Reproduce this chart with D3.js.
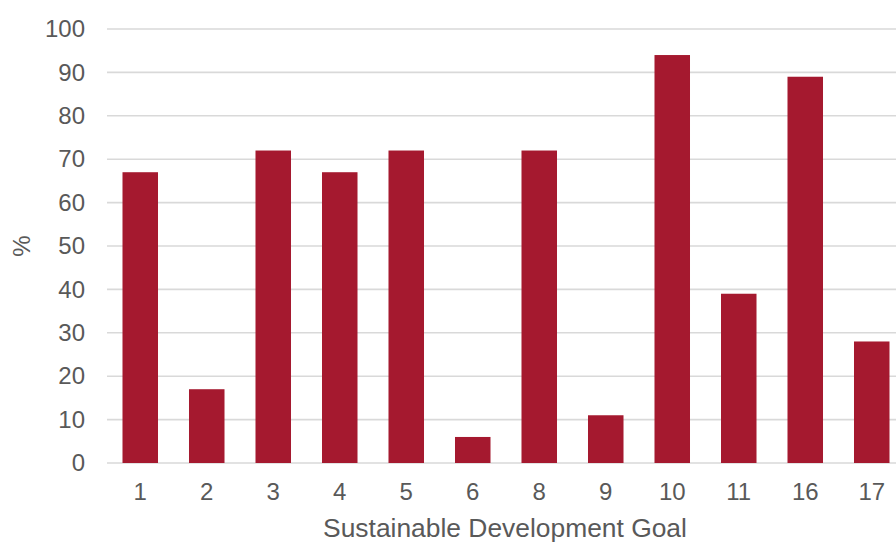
<!DOCTYPE html>
<html>
<head>
<meta charset="utf-8">
<script src="https://cdn.jsdelivr.net/npm/d3@7"></script>
<style>
html,body{margin:0;padding:0;background:#fff;overflow:hidden;}
svg{display:block;}
text{font-family:"Liberation Sans",Arial,sans-serif;fill:#595959;}
</style>
</head>
<body>
<svg id="chart" width="896" height="543"></svg>
<script>
const categories = ["1","2","3","4","5","6","8","9","10","11","16","17"];
const values = [67, 17, 72, 67, 72, 6, 72, 11, 94, 39, 89, 28];
const yTicks = [0,10,20,30,40,50,60,70,80,90,100];
const xTitle = "Sustainable Development Goal";
const yTitle = "%";

(function(){
const svg = d3.select("#chart");
const mLeft = 107, mRight = 905, mTop = 29, mBottom = 463;

const x = d3.scaleBand().domain(categories).range([mLeft, mRight])
  .paddingInner(0.466).paddingOuter(0.233);
const y = d3.scaleLinear().domain([0, 100]).range([mBottom, mTop]);

// gridlines
svg.append("g").selectAll("line").data(yTicks).join("line")
  .attr("x1", mLeft).attr("x2", mRight)
  .attr("y1", d => y(d)).attr("y2", d => y(d))
  .attr("stroke", "#d9d9d9").attr("stroke-width", 1.6);

// bars
svg.append("g").selectAll("rect").data(values).join("rect")
  .attr("x", (d, i) => x(categories[i]))
  .attr("width", x.bandwidth())
  .attr("y", d => y(d))
  .attr("height", d => y(0) - y(d))
  .attr("fill", "#a5192f");

// y axis
const yAxis = d3.axisLeft(y).tickValues(yTicks).tickSize(0).tickPadding(22);
const gy = svg.append("g").attr("transform", `translate(${mLeft},0)`).call(yAxis);
gy.select(".domain").remove();
gy.selectAll("text").style("font-size", "24px").attr("fill", "#595959")
  .style("font-family", "'Liberation Sans', Arial, sans-serif");

// x axis
const xAxis = d3.axisBottom(x).tickSize(0).tickPadding(20);
const gx = svg.append("g").attr("transform", `translate(0,${mBottom})`).call(xAxis);
gx.select(".domain").remove();
gx.selectAll("text").style("font-size", "24px").attr("fill", "#595959")
  .style("font-family", "'Liberation Sans', Arial, sans-serif");

// axis titles
svg.append("text").attr("x", 505).attr("y", 537)
  .attr("text-anchor", "middle").style("font-size", "26.4px").text(xTitle);
svg.append("text").attr("transform", "translate(30,246) rotate(-90)")
  .attr("text-anchor", "middle").style("font-size", "24px").text(yTitle);
})();
</script>
</body>
</html>
